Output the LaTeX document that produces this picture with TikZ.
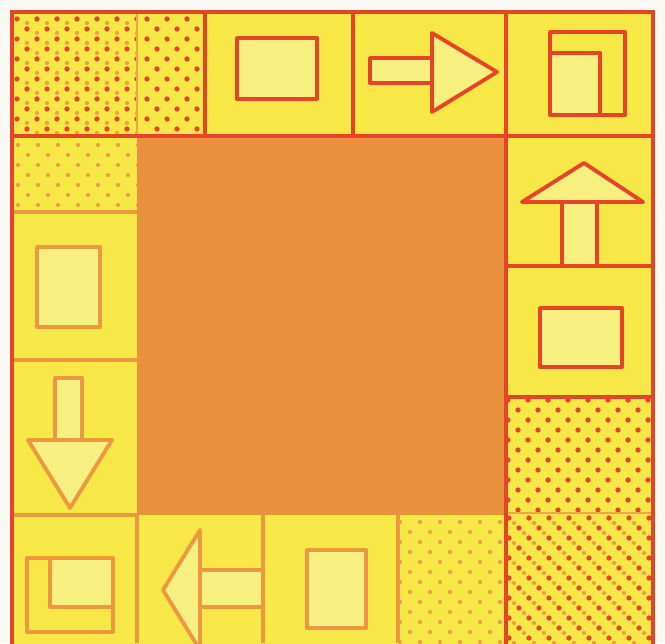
\documentclass[tikz,border=0pt]{standalone}
\usepackage{tikz}
\usepackage{xcolor}
\definecolor{boardyellow}{RGB}{247,232,72}
\definecolor{paleyellow}{RGB}{247,240,128}
\definecolor{linered}{RGB}{230,68,38}
\definecolor{lineorange}{RGB}{236,152,64}
\definecolor{centreorange}{RGB}{232,146,62}
\definecolor{paper}{RGB}{250,248,242}

\begin{document}
\begin{tikzpicture}[x=0.02cm, y=-0.02cm,
  redline/.style={draw=linered, line width=2.2pt},
  orangeline/.style={draw=lineorange, line width=2pt},
  faintline/.style={draw=lineorange!80!boardyellow, line width=1.6pt},
  reddot/.style={fill=linered},
  orangedot/.style={fill=lineorange!90!boardyellow},
  icon/.style={draw=linered, line width=2.2pt, fill=paleyellow, line join=round},
  paleicon/.style={draw=lineorange, line width=2.2pt, fill=paleyellow, line join=round}]
\fill[paper] (0,0) rectangle (665,643);
\clip (0,0) rectangle (665,643);
\fill[boardyellow] (12,12) rectangle (653,660);
\fill[centreorange] (137,136) rectangle (506,515);

% dotted cells
\begin{scope}
\clip (12,12) rectangle (137,136);
\foreach \r in {0,...,12} \foreach \c in {0,...,6} {
  \fill[reddot] ({17+20*\c+10*mod(\r,2)},{19+10*\r}) circle (1.5pt);
  \fill[orangedot] ({27+20*\c+10*mod(\r,2)},{23+10*\r}) circle (1.2pt);
}
\end{scope}
\begin{scope}
\clip (137,12) rectangle (205,136);
\foreach \r in {0,...,12} \foreach \c in {0,...,3} {
  \fill[reddot] ({147+20*\c+10*mod(\r,2)},{19+10*\r}) circle (1.5pt);
}
\end{scope}
\begin{scope}
\clip (506,397) rectangle (653,513);
\foreach \r in {0,...,12} \foreach \c in {0,...,8} {
  \fill[reddot] ({508+20*\c+10*mod(\r,2)},{400+10*\r}) circle (1.5pt);
}
\end{scope}
\begin{scope}
\clip (12,136) rectangle (137,212);
\foreach \r in {0,...,8} \foreach \c in {0,...,6} {
  \fill[orangedot] ({18+20*\c+10*mod(\r,2)},{145+10*\r}) circle (1.2pt);
}
\end{scope}
\begin{scope}
\clip (398,515) rectangle (506,643);
\foreach \r in {0,...,13} \foreach \c in {0,...,5} {
  \fill[orangedot] ({400+20*\c+10*mod(\r,2)},{522+10*\r}) circle (1.2pt);
}
\end{scope}
\begin{scope}
\clip (506,513) rectangle (653,643);
\foreach \r in {0,...,13} \foreach \c in {0,...,8} {
  \fill[reddot] ({509+20*\c+10*mod(\r,2)},{518+10*\r}) circle (1.5pt);
  \fill[orangedot] ({514+20*\c+10*mod(\r,2)},{523+10*\r}) circle (1.2pt);
}
\end{scope}

% cell lines
\draw[faintline] (137,12) -- (137,136);
\draw[orangeline] (12,212) -- (137,212);
\draw[orangeline] (12,360) -- (137,360);
\draw[orangeline] (12,515) -- (137,515);
\draw[orangeline] (137,515) -- (137,643);
\draw[orangeline] (263,515) -- (263,643);
\draw[orangeline] (398,515) -- (398,643);
\draw[faintline] (506,513) -- (653,513);
\draw[redline] (12,136) -- (653,136);
\draw[redline] (205,12) -- (205,136);
\draw[redline] (353,12) -- (353,136);
\draw[redline] (506,12) -- (506,660);
\draw[redline] (506,266) -- (653,266);
\draw[redline] (506,397) -- (653,397);
\draw[redline] (12,660) -- (12,12) -- (653,12) -- (653,660);

% top row
\draw[icon] (237,38) rectangle (317,99);
\draw[icon] (370,58) rectangle (432,83);
\draw[icon] (432,33) -- (497,72) -- (432,112) -- cycle;
\fill[paleyellow] (550,53) rectangle (600,115);
\draw[icon, fill=none] (550,32) rectangle (625,115);
\draw[icon, fill=none] (550,53) -- (600,53) -- (600,115);

% right column
\draw[icon] (562,202) rectangle (597,266);
\draw[icon] (522,202) -- (584,163) -- (643,202) -- cycle;
\draw[icon] (540,308) rectangle (622,367);

% left column
\draw[paleicon] (37,247) rectangle (100,327);
\draw[paleicon] (55,378) rectangle (82,440);
\draw[paleicon] (28,440) -- (112,440) -- (70,508) -- cycle;

% bottom row
\fill[paleyellow] (50,558) rectangle (113,607);
\draw[paleicon, fill=none] (27,558) rectangle (113,632);
\draw[paleicon, fill=none] (50,558) -- (50,607) -- (113,607);
\draw[paleicon] (200,570) rectangle (263,607);
\draw[paleicon] (200,530) -- (163,590) -- (200,650) -- cycle;
\draw[paleicon] (307,550) rectangle (366,628);
\end{tikzpicture}
\end{document}
